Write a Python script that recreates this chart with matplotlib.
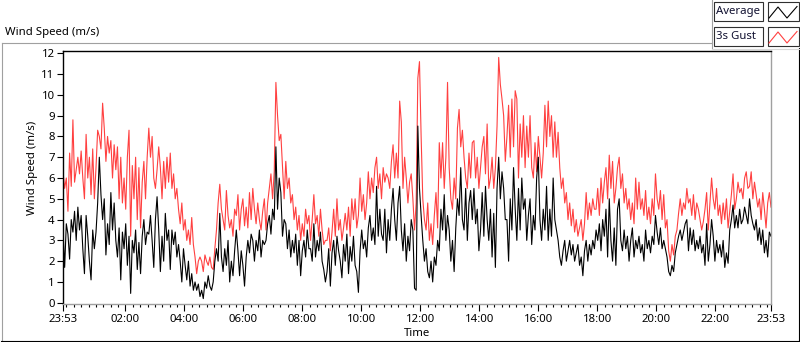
import numpy as np
import matplotlib.pyplot as plt
from matplotlib.patches import Rectangle

plt.rcParams["font.family"] = ["Noto Sans", "DejaVu Sans"]

gust = [
    6.3, 5.5, 6.0, 4.4, 7.2, 5.6, 8.8, 5.8, 6.4, 7.0, 6.2, 7.3, 6.0, 5.0, 8.1, 6.0, 7.0, 5.2, 7.4, 5.0,
    6.5, 8.3, 8.0, 7.4, 9.6, 8.4, 6.8, 8.0, 7.2, 7.8, 6.0, 7.6, 6.4, 7.5, 5.0, 7.0, 4.8, 6.0, 4.5, 7.0,
    8.3, 3.2, 6.6, 5.0, 7.0, 4.0, 6.5, 3.6, 5.8, 6.8, 5.0, 7.0,
    8.4, 7.0, 8.0, 6.0, 5.5, 6.4, 7.5, 6.5, 5.0, 6.8, 5.5, 7.0, 5.8, 7.2, 5.5, 6.2, 5.0, 5.5, 4.5, 3.8,
    4.8, 3.5, 4.0, 3.0, 3.5, 2.8, 4.1, 2.8, 2.2, 1.4, 2.0, 2.2, 2.0, 1.5, 2.3, 2.0, 1.8, 2.2, 1.7, 1.6,
    2.6, 3.5, 4.8, 5.7, 4.5, 4.0, 3.5, 5.4, 4.2, 3.6, 4.0, 3.2, 4.5, 4.2,
    5.2, 3.5, 4.5, 5.0, 3.7, 4.6, 3.6, 5.3, 4.0, 5.5, 4.5, 3.8, 4.8, 4.0, 3.5, 4.4, 5.0, 3.5, 4.8, 5.5,
    6.2, 5.0, 6.3, 10.6, 9.0, 7.8, 8.1, 6.5, 5.0, 6.8, 5.5, 6.0, 4.8, 5.2, 4.0, 4.6, 3.5, 4.2, 3.0, 3.8,
    3.2, 4.5, 3.8, 4.2, 3.0, 4.0, 5.2, 3.8, 4.2, 3.2, 4.5, 3.5, 2.8, 3.0,
    3.0, 3.6, 2.5, 3.4, 4.5, 3.2, 5.0, 3.5, 4.0, 3.0, 3.6, 4.3, 3.5, 4.6, 3.2, 5.0, 4.0, 5.0, 3.6, 4.2,
    6.0, 4.4, 5.2, 4.0, 4.8, 6.3, 5.0, 6.0, 5.3, 6.5, 7.0, 5.5, 6.2, 5.0, 6.5, 5.8, 6.2, 6.0, 5.5, 6.8,
    7.6, 6.0, 7.2, 6.0, 9.7, 8.7, 5.5, 7.0, 6.0, 4.8, 5.8, 6.2, 5.0, 3.5,
    4.8, 10.8, 11.6, 8.0, 5.0, 4.0, 3.5, 4.8, 3.0, 3.8, 2.8, 4.2, 5.3, 3.6, 7.7, 6.0, 7.7, 5.5, 7.0, 10.6,
    6.5, 5.0, 4.5, 6.0, 5.0, 8.4, 9.3, 7.5, 8.3, 7.0, 6.0, 5.5, 7.2, 6.0, 7.7, 7.8, 6.0, 7.0, 5.5, 6.5,
    7.5, 8.0, 6.2, 8.6, 5.5, 6.0, 7.0, 5.5, 6.5, 8.5, 11.8, 10.5, 9.8, 9.0, 6.8,
    8.0, 9.5, 7.0, 9.8, 7.5, 10.2, 9.8, 6.0, 8.6, 7.0, 9.0, 6.5, 8.5, 7.0, 9.0, 6.5, 6.0, 7.7, 6.3, 8.0,
    7.0, 6.0, 7.2, 9.5, 7.5, 9.7, 8.0, 9.0, 7.0, 8.7, 7.0, 8.2, 6.5, 5.5, 6.0, 4.8, 5.3, 4.0, 4.8, 3.7,
    4.5, 3.4, 4.0, 3.2, 3.6, 4.0, 3.0, 3.8, 5.3, 4.0, 4.8, 4.2, 5.0, 4.5,
    4.5, 5.5, 4.2, 6.0, 4.8, 5.8, 6.5, 5.0, 7.1, 5.5, 6.8, 4.8, 5.5, 6.5, 7.0, 5.5, 6.2, 4.8, 5.5, 4.5,
    5.0, 4.0, 4.8, 3.8, 6.0, 4.5, 5.8, 4.5, 5.0, 4.2, 5.4, 4.0, 4.6, 3.8, 5.0, 4.2, 6.2, 5.0, 4.5, 5.4,
    4.0, 5.2, 3.6, 4.0, 2.5, 2.0, 2.8, 2.3, 3.2, 3.5, 4.3, 5.0, 4.2, 4.8,
    4.5, 5.5, 4.8, 5.0, 4.2, 5.2, 4.0, 4.8, 4.5, 4.0, 3.5, 3.9, 4.5, 5.3, 3.5, 4.8, 6.0, 5.0, 4.5, 5.5,
    4.2, 4.7, 3.8, 4.8, 4.0, 5.0, 3.6, 4.4, 5.2, 6.2, 4.5, 5.0, 5.8, 5.3, 5.5, 5.0, 6.0, 6.3, 5.5, 5.6,
    6.3, 5.0, 5.8, 5.2, 4.6, 5.0, 4.0, 5.3, 4.5, 3.6, 4.8, 5.3, 4.6,
]

# average wind speed (m/s), same samples
average = [
    3.5, 1.7, 3.8, 3.3, 2.1, 4.0, 3.4, 4.4, 3.0, 4.6, 3.5, 4.2, 2.6, 1.4, 4.2, 3.2, 2.0, 1.1, 3.5, 2.6,
    3.4, 4.8, 7.0, 5.2, 4.0, 5.0, 2.3, 3.8, 2.8, 5.3, 3.5, 4.8, 3.0, 2.2, 3.6, 1.1, 3.4, 2.6, 3.8, 1.8,
    3.2, 0.45, 3.0, 2.4, 3.5, 1.6, 2.9, 1.4, 3.2, 4.0, 2.8, 3.4,
    3.3, 4.2, 3.0, 1.7, 4.0, 5.1, 3.5, 1.5, 3.2, 2.0, 4.3, 3.0, 3.5, 1.6, 3.5, 2.8, 3.4, 2.2, 2.8, 2.0,
    1.0, 2.6, 1.8, 1.1, 2.0, 0.8, 1.4, 0.6, 1.0, 0.6, 0.9, 0.3, 0.6, 0.2, 1.0, 0.7, 1.3, 0.8, 0.6, 1.0,
    2.0, 2.6, 2.0, 4.3, 2.2, 1.5, 2.6, 1.8, 3.0, 1.0, 2.0, 1.3, 2.5, 3.5,
    2.5, 1.3, 2.5, 1.8, 0.8, 2.2, 3.0, 2.4, 3.3, 3.0, 2.0, 3.0, 2.5, 3.5, 2.2, 3.0, 2.8, 3.0, 3.8, 4.2,
    3.3, 4.5, 4.0, 7.5, 4.5, 6.0, 5.3, 3.2, 4.0, 3.8, 2.6, 3.5, 2.2, 3.0, 2.4, 3.3, 1.8, 3.0, 1.3, 2.5,
    3.0, 2.2, 3.5, 2.6, 2.6, 2.0, 3.8, 2.2, 3.0, 2.5, 3.4, 2.0, 1.6, 1.0,
    1.5, 2.6, 0.8, 2.4, 3.0, 1.8, 3.2, 2.5, 2.0, 1.2, 2.8, 2.0, 3.3, 1.4, 2.7, 2.0, 3.2, 1.8, 1.5, 0.5,
    2.5, 3.5, 2.6, 3.0, 2.2, 3.6, 4.2, 3.0, 3.6, 2.8, 5.6, 3.2, 4.5, 3.3, 3.0, 4.5, 2.4, 4.0, 3.0, 4.5,
    5.5, 4.0, 3.0, 4.8, 5.6, 3.5, 2.5, 3.8, 2.0, 3.2, 2.5, 4.0, 3.5, 0.7,
    0.6, 8.5, 5.5, 4.2, 3.0, 2.0, 2.6, 1.5, 1.2, 2.0, 1.0, 2.2, 1.8, 3.0, 2.5, 4.5, 3.5, 5.2, 3.0, 4.2,
    3.5, 2.0, 3.0, 1.5, 3.6, 5.0, 4.2, 6.5, 4.0, 3.5, 5.5, 3.0, 4.8, 5.4, 4.0, 5.5, 3.8, 4.5, 2.5, 3.5,
    5.3, 3.2, 5.6, 4.0, 3.0, 4.5, 2.2, 4.3, 1.7, 5.5, 7.0, 5.0, 6.3, 5.5, 4.0,
    4.0, 2.0, 5.0, 3.5, 6.5, 4.5, 3.0, 5.5, 3.5, 6.0, 4.5, 5.0, 3.0, 4.2, 5.0, 2.8, 4.2, 3.5, 6.0, 7.0,
    4.0, 3.0, 4.5, 3.5, 5.6, 3.0, 4.5, 3.2, 6.0, 4.0, 3.5, 3.0, 2.2, 1.8, 2.5, 3.0, 2.0, 2.5, 3.0, 2.3,
    2.8, 2.0, 2.4, 2.8, 1.8, 2.2, 1.3, 2.5, 3.0, 2.0, 2.8, 2.3, 3.0, 2.6,
    3.5, 3.0, 3.8, 2.5, 4.0, 3.2, 4.5, 2.2, 5.0, 3.0, 2.0, 3.6, 1.8, 4.5, 5.0, 3.0, 2.5, 3.5, 2.6, 3.2,
    2.0, 3.0, 3.6, 2.2, 3.0, 2.6, 3.2, 2.4, 2.8, 2.0, 3.5, 2.6, 3.0, 2.4, 3.2, 2.8, 4.2, 3.4, 2.8, 3.6,
    2.6, 3.0, 2.6, 2.2, 1.5, 1.3, 1.8, 1.5, 2.4, 2.8, 3.2, 3.5, 3.0, 3.4,
    3.8, 4.0, 2.5, 3.6, 2.8, 3.5, 2.5, 3.0, 2.6, 3.2, 2.4, 2.8, 1.8, 3.8, 2.0, 2.8, 4.0, 3.2, 2.0, 3.0,
    2.4, 2.8, 2.2, 3.0, 1.7, 2.4, 1.9, 3.5, 4.0, 4.7, 3.6, 4.2, 3.6, 4.5, 3.8, 4.0, 4.6, 4.2, 3.8, 5.0,
    4.2, 3.8, 3.5, 4.0, 3.0, 3.6, 2.8, 3.5, 2.4, 3.0, 2.2, 3.4, 3.2,
]

time_labels = ["23:53", "02:00", "04:00", "06:00", "08:00", "10:00", "12:00",
               "14:00", "16:00", "18:00", "20:00", "22:00", "23:53"]
series_labels = ["Average", "3s Gust"]

assert len(gust) == len(average)

# minutes since the 23:53 start
minutes = np.linspace(0, 1440, len(gust))
start = 23 * 60 + 53
tick_minutes = [(int(t[:2]) * 60 + int(t[3:]) - start) % 1440 for t in time_labels]
tick_minutes[-1] = 1440

W, H = 800, 342
FS = 8.2
fig = plt.figure(figsize=(W / 100, H / 100), dpi=100)


def px_box(x0, y0, x1, y1):
    # pixel box with top-left origin -> figure fraction rect
    return [x0 / W, 1 - y1 / H, (x1 - x0) / W, (y1 - y0) / H]


# panel frame and legend drawn in pixel space
deco = fig.add_axes([0, 0, 1, 1])
deco.set_xlim(0, W)
deco.set_ylim(H, 0)
deco.axis("off")
grey = "#a0a0a0"
deco.plot([1.5, 712], [42.5, 42.5], color=grey, lw=0.8)
deco.plot([1.5, 1.5], [42.5, 340], color=grey, lw=0.8)
deco.plot([1, 798.5], [340.5, 340.5], color="black", lw=0.8)
deco.plot([798.5, 798.5], [48, 340.5], color="black", lw=0.8)
deco.plot([712, 712], [0, 48], color=grey, lw=0.8)
deco.plot([712, 800], [48.5, 48.5], color="#d8d8d8", lw=0.8)

for k, (name, col) in enumerate(zip(series_labels, ["black", "#ff4040"])):
    y0 = 2 + k * 25
    deco.add_patch(Rectangle((714, y0), 49, 19, facecolor="white", edgecolor="#303030", lw=0.8))
    deco.add_patch(Rectangle((767.5, y0), 31, 19, facecolor="white", edgecolor="#303030", lw=0.8))
    deco.text(715.5, y0 + 9.5, name, ha="left", va="center", fontsize=FS, color="#101030")
    deco.plot([769, 778, 787, 797], [y0 + 16, y0 + 5, y0 + 16, y0 + 4.5], color=col, lw=0.8)

fig.text(5 / W, 1 - 32 / H, "Wind Speed (m/s)", ha="left", va="center", fontsize=FS)
fig.text(32 / W, 1 - 168 / H, "Wind Speed (m/s)", ha="center", va="center",
         rotation=90, fontsize=FS)
fig.text(417 / W, 1 - 334 / H, "Time", ha="center", va="center", fontsize=FS)

ax = fig.add_axes(px_box(63, 51, 771, 304))
ax.plot(minutes, gust, color="#ff4040", lw=0.8)
ax.plot(minutes, average, color="black", lw=0.8)

ax.set_xlim(0, 1440)
ax.set_ylim(-0.06, 12.11)
ax.set_yticks(range(13))
ax.set_xticks(tick_minutes)
ax.set_xticklabels(time_labels)
ax.set_xticks(np.arange(7, 1440, 15), minor=True)
ax.tick_params(axis="both", labelsize=FS, colors="black", width=0.8)
ax.tick_params(axis="y", length=4, pad=2)
ax.tick_params(axis="x", which="major", length=5, pad=2.5)
ax.tick_params(axis="x", which="minor", length=2.5, width=0.8)

ax.spines["top"].set_color("black")
ax.spines["left"].set_color("black")
ax.spines["bottom"].set_color(grey)
ax.spines["right"].set_color(grey)
for s in ax.spines.values():
    s.set_linewidth(1.0)

fig.savefig("out.png", dpi=100)
